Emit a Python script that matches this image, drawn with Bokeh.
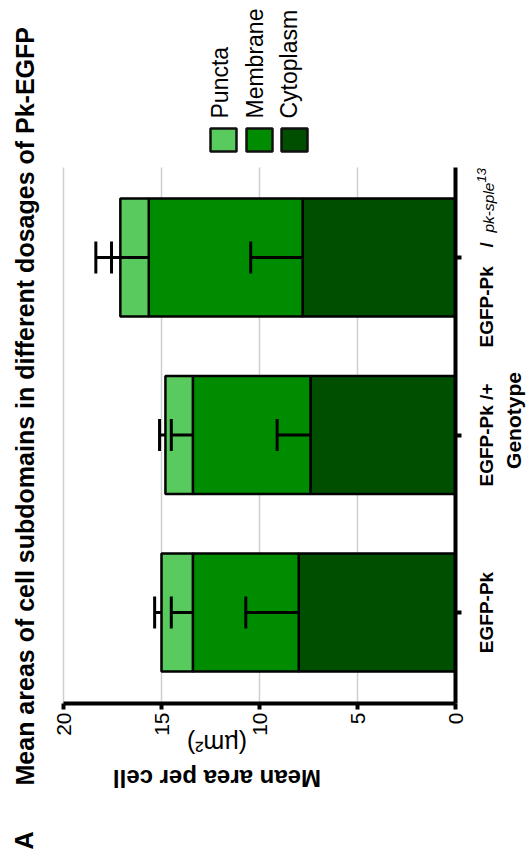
import numpy as np
from bokeh.plotting import figure
from bokeh.models import Range1d, FixedTicker, Label, BoxAnnotation, ColumnDataSource
from bokeh.embed import file_html
from bokeh.resources import INLINE

# ---- data ----
categories = ["EGFP-Pk", "EGFP-Pk /+", "EGFP-Pk /pk-sple13"]
cytoplasm = [8.0, 7.4, 7.8]
membrane = [5.4, 6.0, 7.85]
puncta = [1.6, 1.4, 1.45]
cytoplasm_err = [2.7, 1.7, 2.65]
membrane_err = [1.1, 1.1, 1.9]
puncta_err = [0.35, 0.3, 1.25]
series_names = ["Cytoplasm", "Membrane", "Puncta"]
legend_names = ["Puncta", "Membrane", "Cytoplasm"]
value_ticks = [0, 5, 10, 15, 20]

# ---- layout / style (pixels of the canvas, from top-left) ----
FONT = "Liberation Sans"
COLORS = {"Puncta": "#59cb5e", "Membrane": "#008c00", "Cytoplasm": "#004f00"}
W, H = 531, 859
X_ZERO, PXX = 455.0, 19.6       # pixel of value 0, pixels per unit
Y_CAT0, PXY = 612.0, 177.5      # pixel of first category, pixels per category
PLOT_TOP, PLOT_BOTTOM = 167.0, 703.0
BASE_K = 0.35                   # baseline correction for rotated labels (fraction of font size)


def vy(py):  # canvas pixel row -> category coordinate
    return (Y_CAT0 - py) / PXY


x_range = Range1d(X_ZERO / PXX, (X_ZERO - W) / PXX)
y_range = Range1d(vy(H), vy(0))

pos = np.arange(len(categories), dtype=float)

p = figure(width=W, height=H, output_backend="svg", toolbar_location=None,
           x_range=x_range, y_range=y_range, y_axis_location="right", title=None,
           min_border=0, min_border_left=0, min_border_right=0, min_border_top=0, min_border_bottom=0)
p.outline_line_color = None
p.background_fill_color = "white"
p.border_fill_color = "white"
p.xgrid.visible = False
p.ygrid.visible = False

# grid lines (only inside the plotting area)
p.segment(x0=value_ticks[1:], x1=value_ticks[1:], y0=vy(PLOT_BOTTOM), y1=vy(PLOT_TOP),
          line_color="#d0d0d0", line_width=1.5)

src = ColumnDataSource(dict(y=pos, Cytoplasm=cytoplasm, Membrane=membrane, Puncta=puncta))
p.hbar_stack(series_names, y="y", height=0.665, source=src,
             color=[COLORS[s] for s in series_names], line_color="black", line_width=2.5)

# error bars (upper side only, from the end of each segment)
tops = np.cumsum(np.array([cytoplasm, membrane, puncta]), axis=0)
errs = np.array([cytoplasm_err, membrane_err, puncta_err])
for t, e in zip(tops, errs):
    p.segment(x0=t, x1=t + e, y0=pos, y1=pos, line_color="black", line_width=3)
    p.scatter(x=t + e, y=pos, marker="dash", angle=np.pi / 2, size=32,
              line_color="black", line_width=3)

# value axis
xa = p.xaxis[0]
xa.fixed_location = vy(PLOT_BOTTOM)
xa.bounds = (min(value_ticks), max(value_ticks))
xa.ticker = FixedTicker(ticks=value_ticks)
xa.axis_line_width = 4
xa.major_tick_line_width = 4
xa.major_tick_out = 6
xa.major_tick_in = 0
xa.minor_tick_line_color = None
xa.major_label_orientation = np.pi / 2
xa.major_label_text_font = FONT
xa.major_label_text_font_size = "21px"
xa.major_label_text_color = "black"
xa.major_label_standoff = 3

# category axis
ya = p.yaxis[0]
ya.fixed_location = 0
ya.bounds = (vy(PLOT_BOTTOM), vy(PLOT_TOP))
ya.ticker = FixedTicker(ticks=list(pos))
ya.axis_line_width = 4
ya.major_tick_line_width = 4
ya.major_tick_out = 6
ya.major_tick_in = 0
ya.minor_tick_line_color = None
ya.major_label_text_color = None

UP, FLIP = np.pi / 2, np.pi


def lab(text, x, y, size, angle, align="left", style="bold", yo=0, y_units="screen"):
    corr = BASE_K * size
    if angle == UP:
        x = x - corr
    elif angle == FLIP and y_units == "screen":
        y = y + corr
    p.add_layout(Label(x=x, y=y if y_units == "data" else H - y, x_units="screen", y_units=y_units,
                       y_offset=yo, text=text, angle=angle,
                       text_font=FONT, text_font_size=f"{size}px", text_font_style=style,
                       text_align=align, text_baseline="alphabetic", text_color="black"))


# title and panel letter
lab("Mean areas of cell subdomains in different dosages of Pk-EGFP", 33, 785, 25, UP)
lab("A", 32, 849, 25, UP)
# value axis title (upside down)
lab("Mean area per cell", 216.5, 770, 24, FLIP, align="center")
lab("(µm²)", 216.5, 735, 25, FLIP, align="center", style="normal")
# category labels
lab(categories[0], 493, pos[0], 19, UP, align="center", y_units="data")
lab(categories[1], 493, pos[1], 19, UP, align="center", y_units="data")
lab("EGFP-Pk", 493, pos[2], 19, UP, yo=-90, y_units="data")
lab("/", 493, pos[2], 19, UP, yo=10, y_units="data")
lab("pk-sple", 493, pos[2], 15.5, UP, style="italic", yo=25, y_units="data")
lab("13", 486, pos[2], 13, UP, style="italic", yo=75, y_units="data")
lab("Genotype", 520, 420, 21, UP, align="center")

# legend (rotated)
sq_left = [210, 246, 281]
txt_base = [228, 263, 297]
for name, sx, tx in zip(legend_names, sq_left, txt_base):
    p.add_layout(BoxAnnotation(left=sx, right=sx + 26, top=H - 128, bottom=H - 151,
                               left_units="screen", right_units="screen",
                               top_units="screen", bottom_units="screen",
                               fill_color=COLORS[name], fill_alpha=1,
                               line_color="#111111", line_width=2.5, line_alpha=1))
    lab(name, tx, 118, 23, UP, style="normal")

open("out.html", "w").write(file_html(p, INLINE))
